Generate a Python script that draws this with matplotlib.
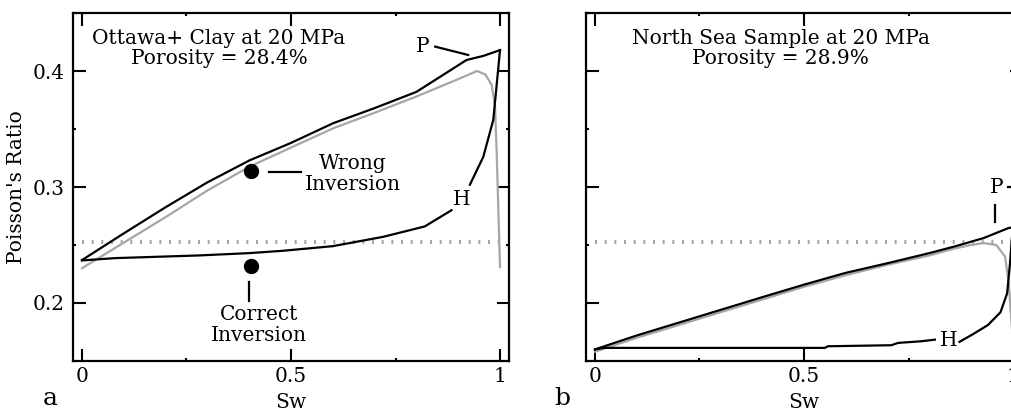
import numpy as np
import matplotlib
matplotlib.use("Agg")
import matplotlib.pyplot as plt
from matplotlib.ticker import MultipleLocator

plt.rcParams['font.family'] = ['DejaVu Serif']

# ---- panel a: Ottawa + clay ----
a_p_sw = [0.0, 0.10, 0.202, 0.30, 0.401, 0.50, 0.601, 0.70, 0.80, 0.92, 0.96, 1.0]
a_p_pr = [0.237, 0.260, 0.283, 0.304, 0.323, 0.338, 0.355, 0.368, 0.382, 0.4095, 0.413, 0.418]
a_h1_sw = [1.0, 0.984, 0.96, 0.928]
a_h1_pr = [0.418, 0.358, 0.326, 0.302]
a_h2_sw = [0.884, 0.82, 0.72, 0.60, 0.48, 0.40, 0.28, 0.08, 0.0]
a_h2_pr = [0.280, 0.266, 0.257, 0.249, 0.245, 0.243, 0.241, 0.2387, 0.2367]
a_g_sw = [0.0, 0.10, 0.20, 0.30, 0.401, 0.50, 0.601, 0.70, 0.80, 0.90, 0.945, 0.965, 0.980, 0.988, 0.992, 1.0]
a_g_pr = [0.230, 0.252, 0.274, 0.297, 0.3176, 0.334, 0.3506, 0.364, 0.378, 0.393, 0.400, 0.397, 0.388, 0.370, 0.330, 0.231]

# ---- panel b: North Sea sample ----
b_p_sw = [0.0, 0.10, 0.20, 0.30, 0.40, 0.50, 0.60, 0.701, 0.80, 0.861, 0.93, 0.989, 1.0]
b_p_pr = [0.160, 0.172, 0.183, 0.194, 0.205, 0.2158, 0.226, 0.2344, 0.243, 0.2488, 0.256, 0.2646, 0.2653]
b_h1_sw = [1.0, 0.997, 0.993, 0.986, 0.970, 0.940, 0.905, 0.872]
b_h1_pr = [0.2653, 0.255, 0.235, 0.2084, 0.192, 0.181, 0.1733, 0.1665]
b_h2_sw = [0.813, 0.78, 0.725, 0.709, 0.557, 0.550, 0.022, 0.0]
b_h2_pr = [0.1684, 0.167, 0.1656, 0.1636, 0.1627, 0.1613, 0.1613, 0.160]
b_g_sw = [0.0, 0.10, 0.20, 0.30, 0.40, 0.50, 0.60, 0.70, 0.80, 0.86, 0.90, 0.929, 0.96, 0.981, 0.990, 0.995, 1.0, 1.003]
b_g_pr = [0.158, 0.170, 0.181, 0.192, 0.203, 0.214, 0.224, 0.233, 0.241, 0.247, 0.250, 0.2517, 0.250, 0.240, 0.217, 0.190, 0.165, 0.14]

ref_pr = 0.253
inv_sw = 0.405
wrong_pr, correct_pr = 0.314, 0.2316

FS = 14.5
W, H = 1011, 411
fig = plt.figure(figsize=(W/100, H/100), dpi=100)
ax1 = fig.add_axes([73/W, 1-361/H, 436/W, 348/H])
ax2 = fig.add_axes([586/W, 1-361/H, 436/W, 348/H])

grey = '#a6a6a6'
for ax in (ax1, ax2):
    ax.set_xlim(-0.0215, 1.0215)
    ax.set_ylim(0.15, 0.45)
    ax.xaxis.set_major_locator(MultipleLocator(0.5))
    ax.xaxis.set_minor_locator(MultipleLocator(0.25))
    ax.yaxis.set_major_locator(MultipleLocator(0.1))
    ax.yaxis.set_minor_locator(MultipleLocator(0.05))
    ax.tick_params(which='both', direction='in', top=True, right=True, width=1.5, labelsize=FS)
    ax.tick_params(axis='x', pad=4)
    ax.tick_params(axis='y', pad=6)
    ax.tick_params(which='major', length=9)
    ax.tick_params(which='minor', length=2)
    for s in ax.spines.values():
        s.set_linewidth(1.6)
    ax.set_xlabel('Sw', fontsize=FS, labelpad=5)
    ax.set_xticks([0, 0.5, 1])
    ax.set_xticklabels(['0', '0.5', '1'])
    ax.plot([0, 1], [ref_pr, ref_pr], color=grey, lw=2.9, ls=(0, (0.5, 1.9)))

ax1.set_yticks([0.2, 0.3, 0.4])
ax1.set_yticklabels(['0.2', '0.3', '0.4'])
ax1.set_ylabel("Poisson's Ratio", fontsize=FS, labelpad=5)
ax2.set_yticklabels([])

# panel a curves
ax1.plot(a_g_sw, a_g_pr, color=grey, lw=1.6)
ax1.plot(a_p_sw, a_p_pr, color='k', lw=1.6)
ax1.plot(a_h1_sw, a_h1_pr, color='k', lw=1.6)
ax1.plot(a_h2_sw, a_h2_pr, color='k', lw=1.6)
ax1.plot([inv_sw, inv_sw], [wrong_pr, correct_pr], 'o', color='k', ms=10, ls='none')
ax1.plot([0.448, 0.525], [0.313, 0.313], color='k', lw=1.6)
ax1.plot([0.40, 0.40], [0.2178, 0.2014], color='k', lw=1.6)
ax1.text(0.648, 0.311, 'Wrong\nInversion', ha='center', va='center', fontsize=FS, linespacing=1.1)
ax1.text(0.424, 0.181, 'Correct\nInversion', ha='center', va='center', fontsize=FS, linespacing=1.1)
ax1.text(0.816, 0.421, 'P', ha='center', va='center', fontsize=FS)
ax1.plot([0.845, 0.924], [0.421, 0.4138], color='k', lw=1.6)
ax1.text(0.908, 0.289, 'H', ha='center', va='center', fontsize=FS)
ax1.text(0.328, 0.4194, 'Ottawa+ Clay at 20 MPa\nPorosity = 28.4%', ha='center', va='center',
         fontsize=FS, linespacing=1.1)

# panel b curves
ax2.plot(b_g_sw, b_g_pr, color=grey, lw=1.6)
ax2.plot(b_p_sw, b_p_pr, color='k', lw=1.6)
ax2.plot(b_h1_sw, b_h1_pr, color='k', lw=1.6)
ax2.plot(b_h2_sw, b_h2_pr, color='k', lw=1.6)
ax2.text(0.845, 0.168, 'H', ha='center', va='center', fontsize=FS)
ax2.text(0.962, 0.300, 'P', ha='center', va='center', fontsize=FS)
ax2.plot([0.987, 1.0], [0.300, 0.300], color='k', lw=1.6)
ax2.plot([0.958, 0.958], [0.2847, 0.2694], color='k', lw=1.6)
ax2.text(0.444, 0.4194, 'North Sea Sample at 20 MPa\nPorosity = 28.9%', ha='center', va='center',
         fontsize=FS, linespacing=1.1)

fig.text(50/W, 1-398/H, 'a', fontsize=18, ha='center', va='center')
fig.text(562/W, 1-398/H, 'b', fontsize=18, ha='center', va='center')

fig.savefig('out.png', dpi=100)
